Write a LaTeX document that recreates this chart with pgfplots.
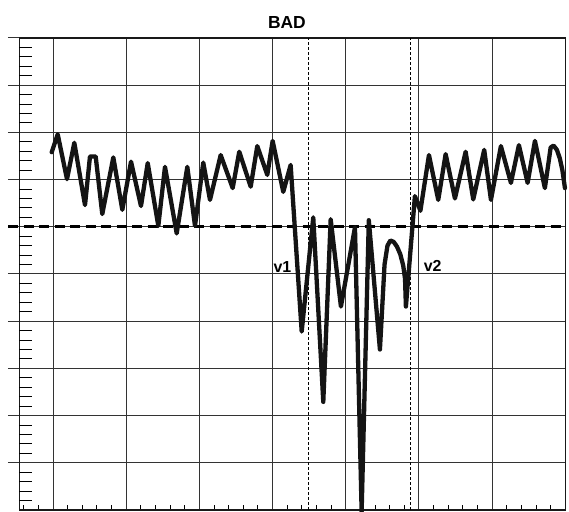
\documentclass[border=0pt]{standalone}
\usepackage{fontspec}
\setmainfont{Liberation Sans}
\usepackage{pgfplots}
\pgfplotsset{compat=1.18}
\begin{document}
\begin{tikzpicture}
\useasboundingbox (-19.5bp,-2bp) rectangle (549.5bp,510bp);
\begin{axis}[
  at={(0,0)}, anchor=south west,
  scale only axis, width=545.8bp, height=472bp,
  xmin=-0.458, xmax=7, ymin=0, ymax=10,
  clip=false,
  axis line style={black!90, line width=1.2bp},
  xtick={0,...,7}, ytick={1,...,10},
  xticklabels={}, yticklabels={},
  xtick pos=bottom, ytick pos=left,
  tick align=inside,
  major tick length=11.5bp,
  every major y tick/.style={xshift=-11.5bp, black!80, line width=1bp},
  every major x tick/.style={draw=none},
  minor xtick={-0.4,-0.2,0.2,0.4,0.6,0.8,1.2,1.4,1.6,1.8,2.2,2.4,2.6,2.8,3.2,3.4,3.6,3.8,4.2,4.4,4.6,4.8,5.2,5.4,5.6,5.8,6.2,6.4,6.6,6.8},
  minor tick length=5bp,
  every minor tick/.style={black, line width=1bp},
  grid=major, grid style={black!80, line width=1bp},
  title={BAD},
  title style={at={(0.49,1)}, anchor=base, yshift=3.5bp, font=\bfseries\fontsize{17.5}{20}\selectfont},
]
\addplot[black, line width=2.8bp, dash pattern=on 10bp off 5.5bp] coordinates {(-0.615,6) (7,6)};
\addplot[black, line width=0.9bp, dash pattern=on 3bp off 2bp] coordinates {(3.488,0) (3.488,10)};
\addplot[black, line width=0.9bp, dash pattern=on 3bp off 2bp] coordinates {(4.887,0) (4.887,10)};
\addplot[black!92, line width=4.3bp, line join=round, line cap=round] coordinates {
(-0.018,7.58) (0.064,7.96) (0.191,7.01) (0.291,7.78) (0.437,6.46) (0.505,7.49)
(0.583,7.49) (0.673,6.27) (0.824,7.47) (0.947,6.36) (1.066,7.38) (1.202,6.44)
(1.294,7.35) (1.439,6.02) (1.530,7.27) (1.690,5.86) (1.835,7.27) (1.940,6.02)
(2.053,7.36) (2.145,6.57) (2.291,7.52) (2.455,6.82) (2.545,7.59) (2.701,6.85)
(2.791,7.71) (2.928,7.10) (3.001,7.82) (3.146,6.74) (3.247,7.31) (3.398,3.78)
(3.556,6.20) (3.693,2.29) (3.794,6.16) (3.934,4.31) (4.126,5.99) (4.217,-0.03)
(4.315,6.14) (4.467,3.40) (4.530,5.20) (4.570,5.60) (4.610,5.71) (4.655,5.68)
(4.700,5.58) (4.745,5.42) (4.785,5.18) (4.810,4.90) (4.822,4.31) (4.945,6.65)
(5.020,6.34) (5.137,7.52) (5.264,6.57) (5.365,7.54)
(5.492,6.60) (5.638,7.59) (5.742,6.58) (5.892,7.63) (5.984,6.57) (6.120,7.71)
(6.257,6.93) (6.366,7.73) (6.485,6.93) (6.585,7.82) (6.721,6.82) (6.800,7.68)
(6.840,7.72) (6.885,7.63) (6.925,7.45) (6.960,7.20) (6.995,6.82)
};
\node[font=\bfseries\fontsize{16}{18}\selectfont] at (axis cs:3.135,5.15) {v1};
\node[font=\bfseries\fontsize{16}{18}\selectfont] at (axis cs:5.187,5.17) {v2};
\end{axis}
\begin{axis}[
  at={(0,0)}, anchor=south west,
  scale only axis, width=545.8bp, height=472bp,
  xmin=-0.458, xmax=7, ymin=0, ymax=10,
  axis line style={draw=none},
  xtick=\empty, ytick={0,...,10}, yticklabels={},
  every major y tick/.style={draw=none},
  minor ytick={0.2,0.4,0.6,0.8,1.2,1.4,1.6,1.8,2.2,2.4,2.6,2.8,3.2,3.4,3.6,3.8,4.2,4.4,4.6,4.8,5.2,5.4,5.6,5.8,6.2,6.4,6.6,6.8,7.2,7.4,7.6,7.8,8.2,8.4,8.6,8.8,9.2,9.4,9.6,9.8},
  ytick pos=left, tick align=inside,
  minor tick length=12bp,
  every minor tick/.style={black, line width=1bp},
]
\addplot[draw=none] coordinates {(0,0)};
\end{axis}
\end{tikzpicture}
\end{document}
